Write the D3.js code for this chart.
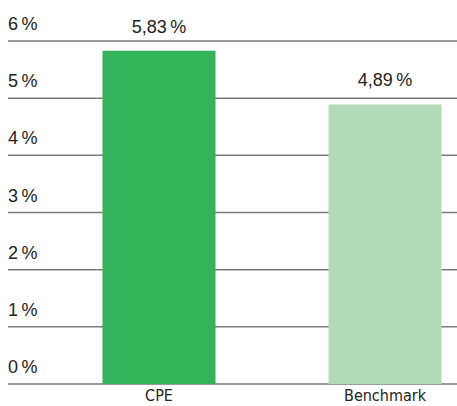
<!DOCTYPE html>
<html>
<head>
<meta charset="utf-8">
<script src="https://cdn.jsdelivr.net/npm/d3@7"></script>
<style>
  body { margin: 0; background: #fff; }
  svg text { fill: #222; }
</style>
</head>
<body>
<svg id="chart" width="457" height="406"></svg>
<script>
var categories = ["CPE", "Benchmark"];
var values = [5.83, 4.89];
var ticks = [0, 1, 2, 3, 4, 5, 6];
var colors = ["#34b45a", "#b3dbb7"];

var svg = d3.select("#chart");

var y = d3.scaleLinear().domain([0, 6]).range([384, 41]);
var x = d3.scaleBand().domain(categories).range([46, 498])
    .paddingInner(0.5).paddingOuter(0.25);

function fmt(v) {
    return String(v).replace(".", ",") + "\u2009%";
}

// gridlines + tick labels
var grid = svg.append("g");
grid.selectAll("line").data(ticks).enter().append("line")
    .attr("x1", 8).attr("x2", 457)
    .attr("y1", function (d) { return y(d); })
    .attr("y2", function (d) { return y(d); })
    .attr("stroke", "#7a7a7a").attr("stroke-width", 1.5);

grid.selectAll("text").data(ticks).enter().append("text")
    .attr("x", 8)
    .attr("y", function (d) { return y(d) - 11; })
    .attr("font-family", "'Liberation Sans', Arial, sans-serif")
    .attr("font-size", 18)
    .text(function (d) { return d + "\u2009%"; });

// bars
svg.selectAll(".bar").data(values).enter().append("rect")
    .attr("class", "bar")
    .attr("x", function (d, i) { return x(categories[i]); })
    .attr("width", x.bandwidth())
    .attr("y", function (d) { return y(d); })
    .attr("height", function (d) { return y(0) - y(d); })
    .attr("fill", function (d, i) { return colors[i]; });

// value labels
svg.selectAll(".val").data(values).enter().append("text")
    .attr("class", "val")
    .attr("x", function (d, i) { return x(categories[i]) + x.bandwidth() / 2; })
    .attr("y", function (d) { return y(d) - 18; })
    .attr("text-anchor", "middle")
    .attr("font-family", "'Liberation Sans', Arial, sans-serif")
    .attr("font-size", 18)
    .text(function (d) { return fmt(d); });

// category labels
svg.selectAll(".cat").data(categories).enter().append("text")
    .attr("class", "cat")
    .attr("x", function (d) { return x(d) + x.bandwidth() / 2; })
    .attr("y", 401)
    .attr("text-anchor", "middle")
    .attr("font-family", "'Liberation Sans Narrow', 'DejaVu Sans Condensed', sans-serif")
    .attr("font-size", 16)
    .text(function (d) { return d; });
</script>
</body>
</html>
